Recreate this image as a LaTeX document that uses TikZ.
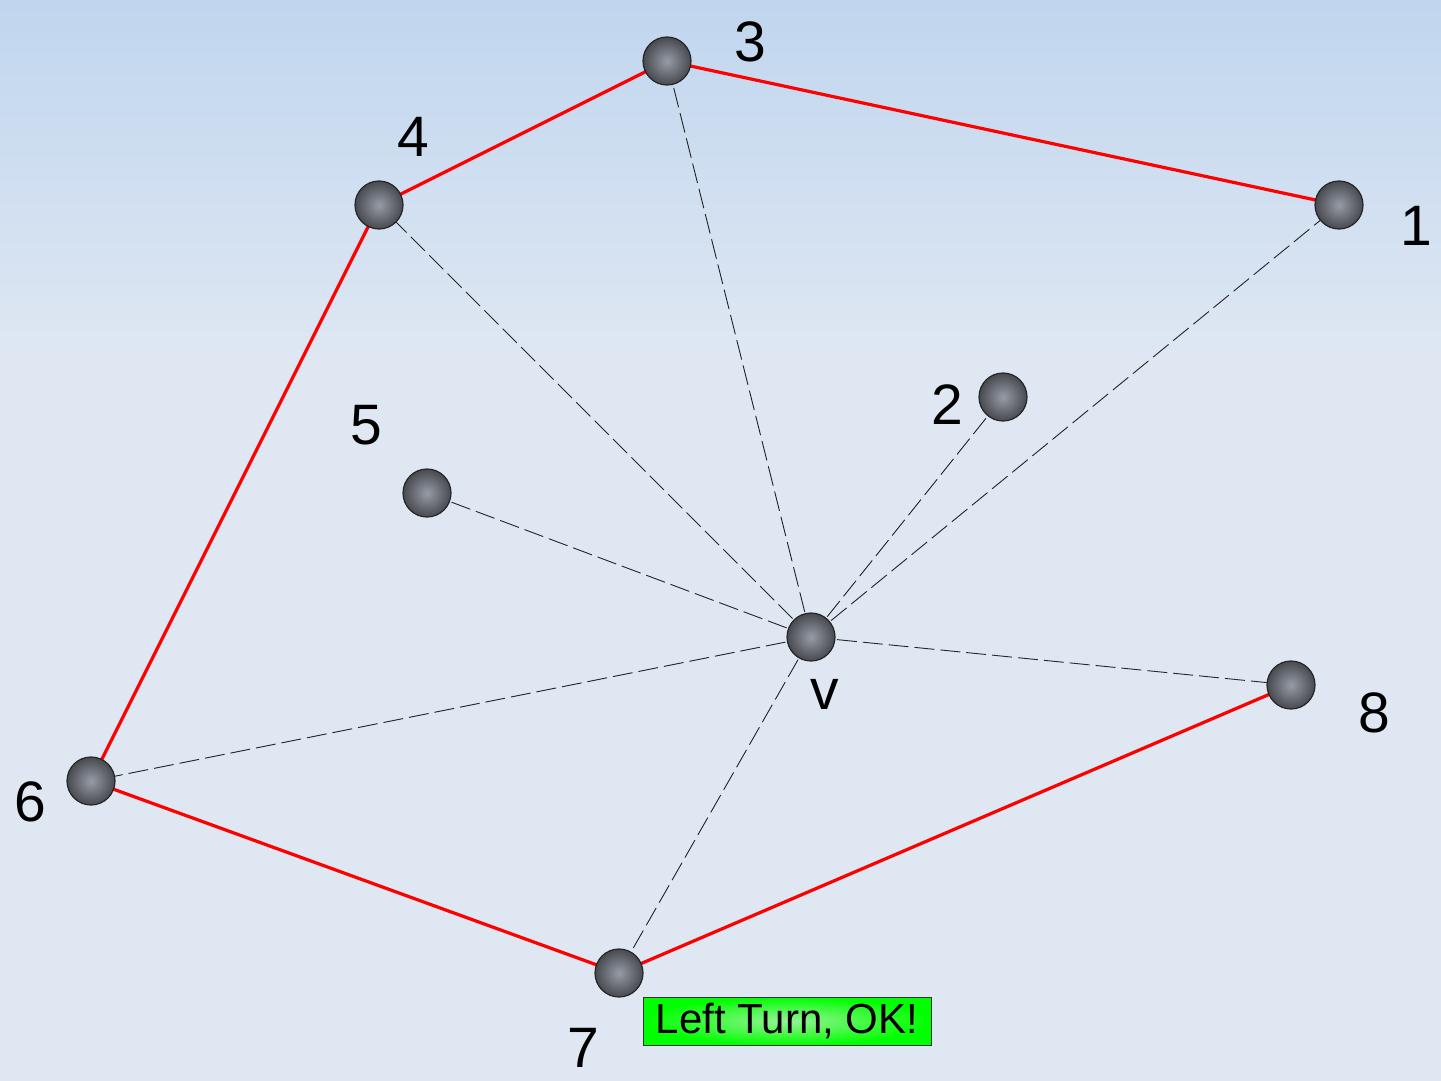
\documentclass[tikz,border=0pt]{standalone}
\usepackage{fontspec}
\setmainfont{Liberation Sans}
\pgfdeclarelayer{bg}
\pgfsetlayers{bg,main}
\begin{document}
\begin{tikzpicture}[x=1pt,y=-1pt,
  ball/.style={circle,draw=black!85,line width=1.2pt,minimum size=48pt,inner sep=0pt,
    inner color={rgb,255:red,150;green,155;blue,165},outer color={rgb,255:red,72;green,74;blue,80}},
  hull/.style={draw={rgb,255:red,255;green,0;blue,0},line width=3.2pt},
  ray/.style={draw=black!85,line width=0.9pt,dash pattern=on 20pt off 6pt},
  lbl/.style={font=\fontsize{57}{60}\selectfont,inner sep=0pt}]
\definecolor{bgtop}{RGB}{192,214,238}
\definecolor{bgbot}{RGB}{223,231,243}
\useasboundingbox (0,0) rectangle (1441,1081);

\node[ball] (n3) at (667,61) {};
\node[ball] (n4) at (379,205) {};
\node[ball] (n1) at (1339,205) {};
\node[ball] (n2) at (1003,397) {};
\node[ball] (n5) at (427,493) {};
\node[ball] (nv) at (811,637) {};
\node[ball] (n8) at (1291,685) {};
\node[ball] (n6) at (91,781) {};
\node[ball] (n7) at (619,973) {};

\begin{pgfonlayer}{bg}
\fill[bgbot] (0,0) rectangle (1441,1081);
\shade[top color=bgtop,bottom color=bgbot] (0,0) rectangle (1441,360);
\foreach \t in {n3,n4,n1,n2,n5,n8,n6,n7}{
  \draw[ray] (nv.center) -- (\t.center);
}
\draw[hull] (n1.center) -- (n3.center);
\draw[hull] (n3.center) -- (n4.center);
\draw[hull] (n4.center) -- (n6.center);
\draw[hull] (n6.center) -- (n7.center);
\draw[hull] (n7.center) -- (n8.center);
\end{pgfonlayer}

\node[lbl] (l3) at (750,42) {3};
\node[lbl] (l4) at (413,137) {4};
\node[lbl] (l1) at (1416,226) {1};
\node[lbl] (l2) at (947,405) {2};
\node[lbl] (l5) at (366,425) {5};
\node[lbl] (lv) at (825,694) {v};
\node[lbl] (l8) at (1374,713) {8};
\node[lbl] (l6) at (30,802) {6};
\node[lbl] (l7) at (583,1048) {7};

\node[draw=black!80,line width=1pt,minimum width=288pt,minimum height=48pt,inner sep=0pt,
  inner color={rgb,255:red,150;green,242;blue,150},outer color={rgb,255:red,0;green,255;blue,0},
  font=\fontsize{42}{44}\selectfont] (ok) at (787,1021) {Left Turn, OK!};
\end{tikzpicture}
\end{document}
